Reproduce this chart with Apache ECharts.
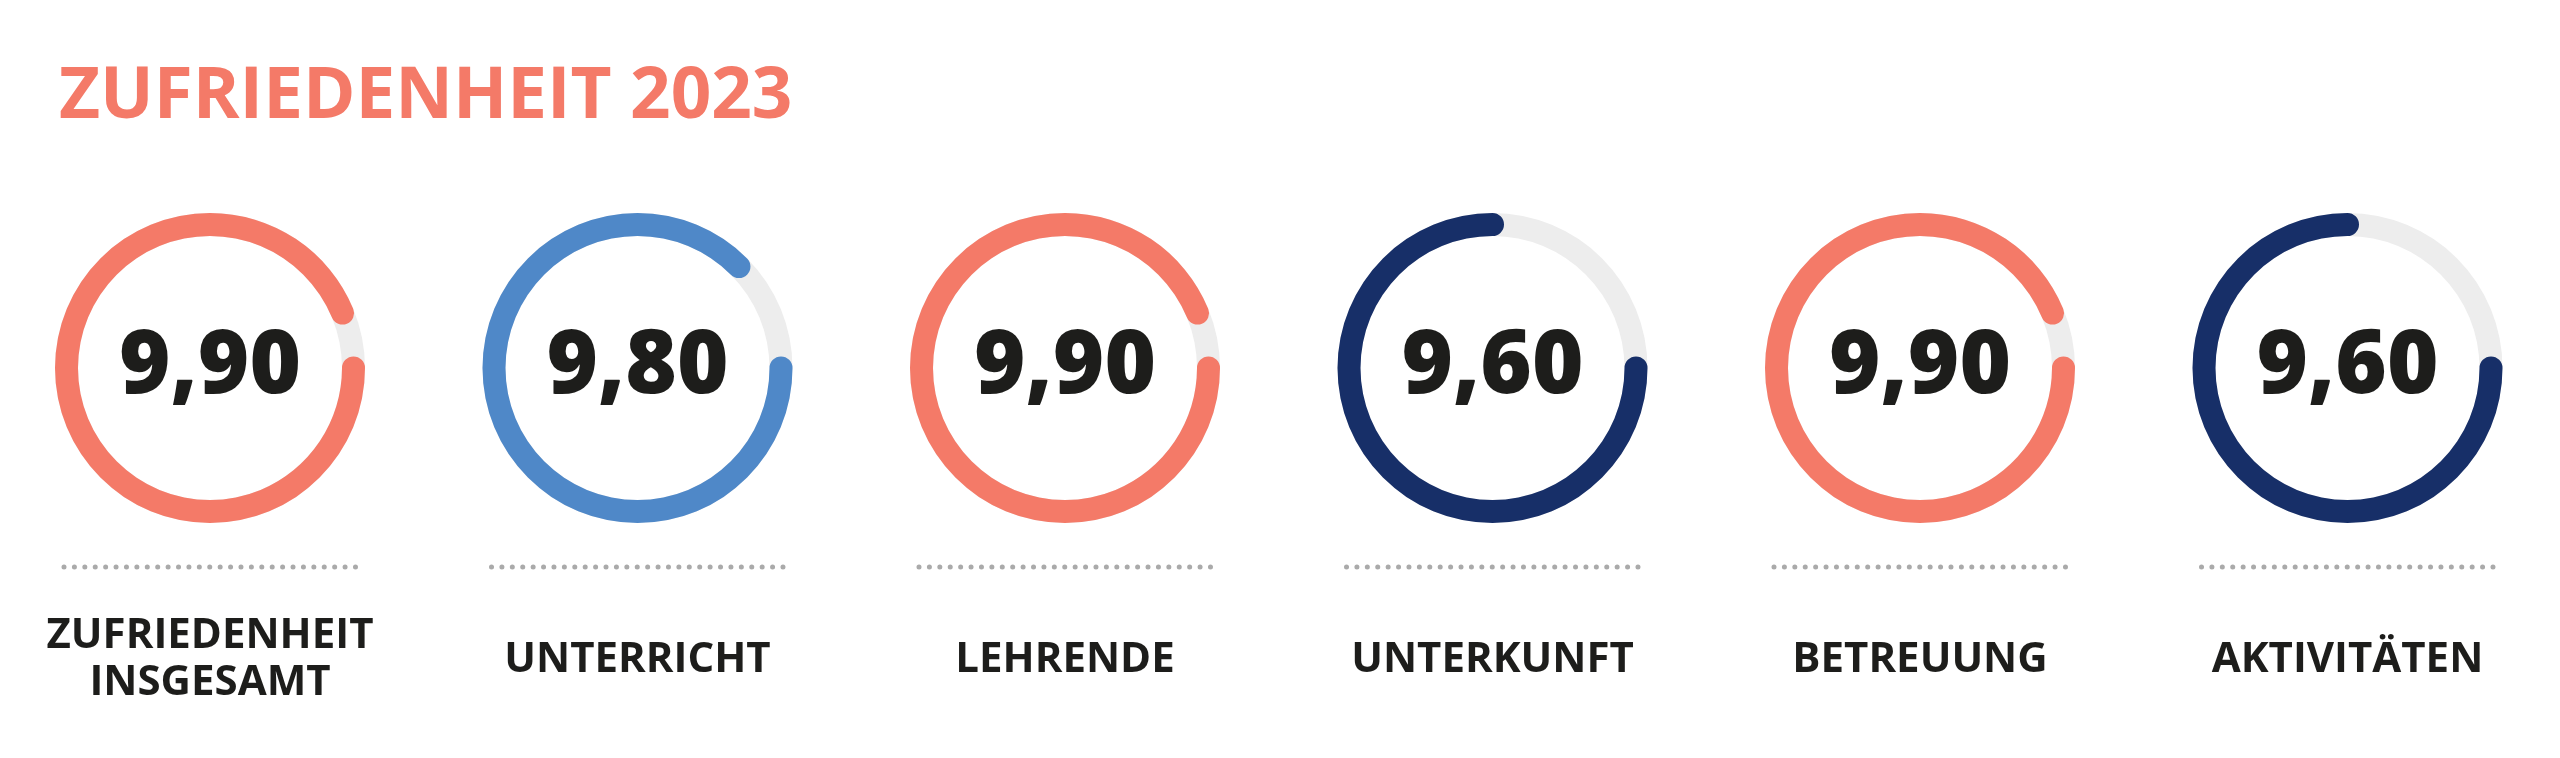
<!DOCTYPE html>
<html>
<head>
<meta charset="utf-8">
<script src="https://cdn.jsdelivr.net/npm/echarts@6/dist/echarts.min.js"></script>
<style>
  html, body { margin: 0; padding: 0; background: #fff; }
  #chart { width: 2560px; height: 758px; }
</style>
</head>
<body>
<div id="chart"></div>
<script>
// Daten
const categories = ['ZUFRIEDENHEIT\nINSGESAMT', 'UNTERRICHT', 'LEHRENDE', 'UNTERKUNFT', 'BETREUUNG', 'AKTIVITÄTEN'];
const scores = [9.9, 9.8, 9.9, 9.6, 9.9, 9.6];
const ringColors = ['#f47a68', '#4f88c8', '#f47a68', '#172f68', '#f47a68', '#172f68'];
const scaleMin = 8.4;
const scaleMax = 10;

// Layout
const firstX = 210;
const stepX = 427.5;
const centerY = 368;
const font = '"Open Sans", sans-serif';

const chart = echarts.init(document.getElementById('chart'));

const series = scores.map((v, i) => ({
  type: 'gauge',
  center: [firstX + i * stepX, centerY],
  radius: 155,
  startAngle: 0,
  endAngle: -360,
  clockwise: true,
  min: scaleMin,
  max: scaleMax,
  pointer: { show: false },
  anchor: { show: false },
  axisTick: { show: false },
  splitLine: { show: false },
  axisLabel: { show: false },
  axisLine: { lineStyle: { width: 23, color: [[1, '#ededed']] } },
  progress: { show: true, width: 23, roundCap: true, itemStyle: { color: ringColors[i] } },
  title: {
    offsetCenter: [0, 292],
    fontFamily: font,
    fontSize: 42,
    fontWeight: 'bold',
    lineHeight: 47,
    color: '#1d1d1b'
  },
  detail: {
    offsetCenter: [0, 0],
    fontFamily: font,
    fontSize: 88,
    fontWeight: 800,
    color: '#1d1d1b',
    formatter: (val) => val.toFixed(2).replace('.', ',')
  },
  data: [{ value: v, name: categories[i] }]
}));

// gepunktete Trennlinien
const dots = scores.map((v, i) => {
  const cx = firstX + i * stepX;
  return {
    type: 'line',
    shape: { x1: cx - 146, y1: 567, x2: cx + 146, y2: 567 },
    style: { stroke: '#aaaaaa', lineWidth: 5, lineCap: 'round', lineDash: [0.01, 10.4] }
  };
});

chart.setOption({
  backgroundColor: '#fff',
  animation: false,
  title: {
    text: 'ZUFRIEDENHEIT 2023',
    left: 54,
    top: 57,
    textStyle: { fontFamily: font, fontSize: 71, fontWeight: 'bold', color: '#f47a68' }
  },
  graphic: dots,
  series
});
</script>
</body>
</html>
